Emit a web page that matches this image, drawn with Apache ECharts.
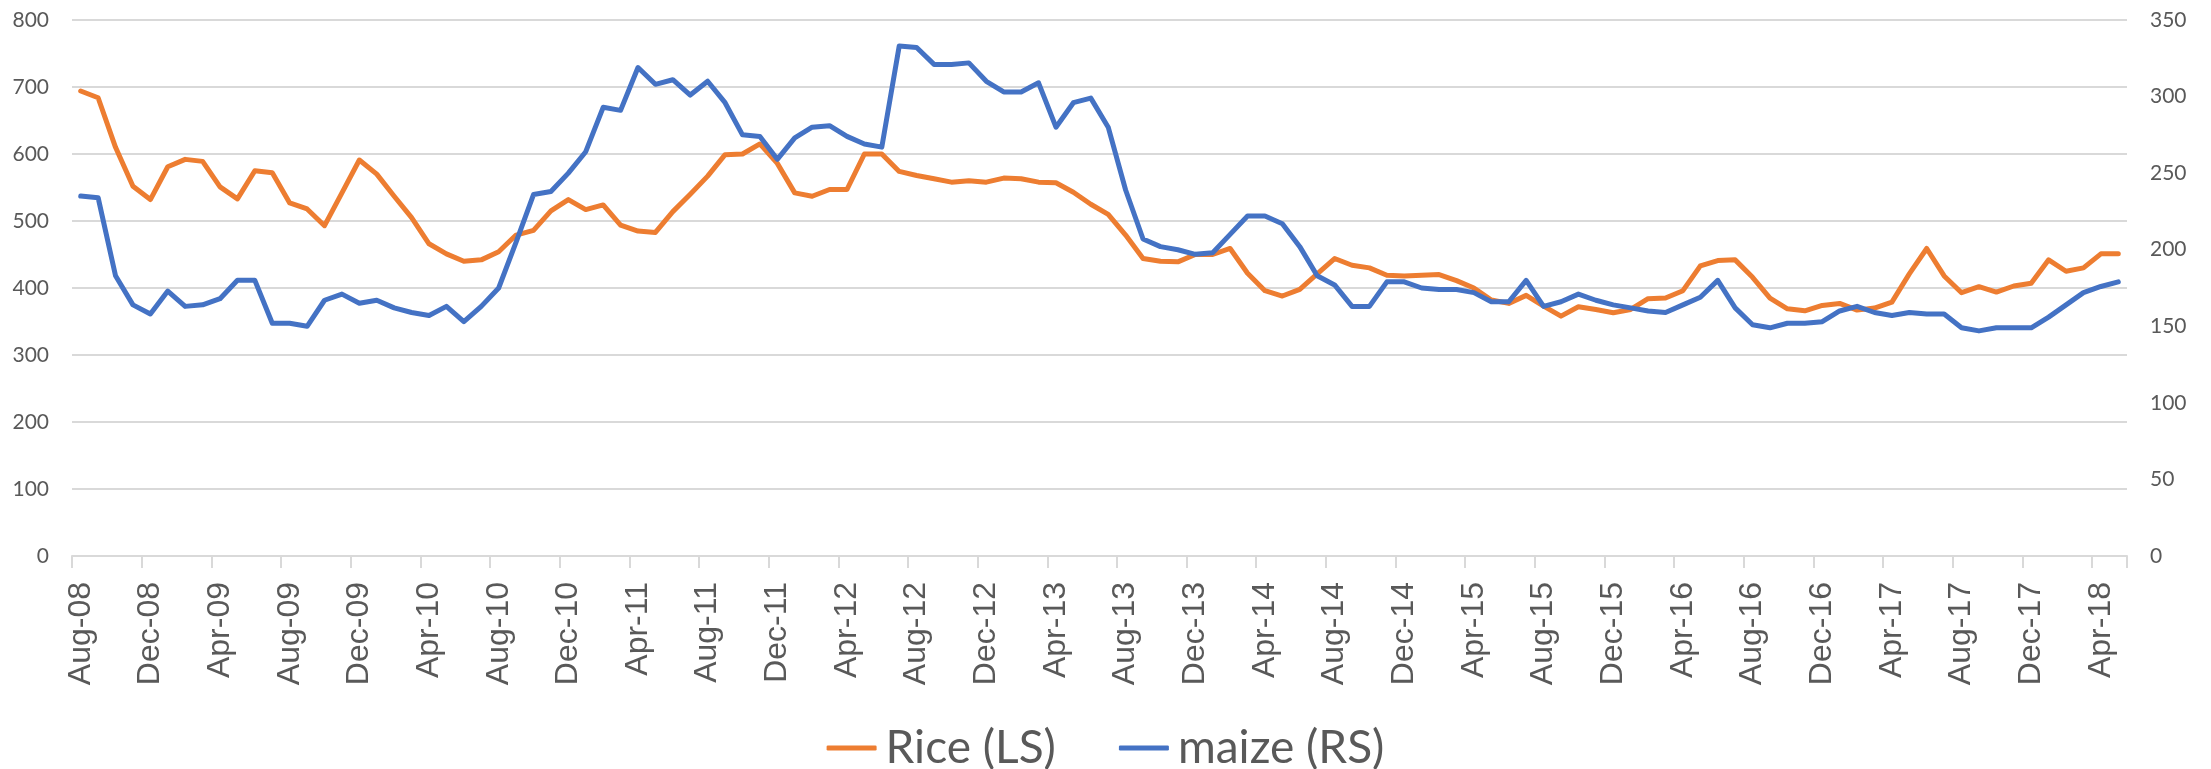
<!DOCTYPE html>
<html lang="en">

<head>
    <meta charset="UTF-8">
    <title>Rice and maize prices</title>
    <script src="https://cdn.jsdelivr.net/npm/echarts@6/dist/echarts.min.js"></script>
    <style>
        html, body { margin: 0; padding: 0; background: #fff; }
    </style>
</head>

<body>
    <div id="main" style="width: 2211px;height:769px;"></div>
    <script>
        // monthly, Aug-08 .. May-18
        var monthNames = ['Jan', 'Feb', 'Mar', 'Apr', 'May', 'Jun', 'Jul', 'Aug', 'Sep', 'Oct', 'Nov', 'Dec'];
        var startMonth = 7, startYear = 8, nMonths = 118;
        var months = [];
        for (let i = 0; i < nMonths; i++) {
            let m = (startMonth + i) % 12, y = startYear + Math.floor((startMonth + i) / 12);
            months.push(monthNames[m] + '-' + String(y).padStart(2, '0'));
        }

        // Rice (left scale)
        var rice = [
            694, 684, 610, 552, 532, 581, 592, 589, 551, 533, 575, 572,
            527, 518, 493, 542, 591, 570, 537, 505, 466, 451, 440, 442,
            454, 479, 486, 515, 532, 517, 524, 494, 485, 483, 514, 540,
            567, 599, 600, 615, 586, 542, 537, 547, 547, 600, 600, 574,
            568, 563, 558, 560, 558, 564, 563, 558, 557, 543, 525, 510,
            479, 444, 440, 439, 450, 450, 459, 422, 396, 388, 398, 421,
            444, 434, 430, 419, 418, 419, 420, 411, 400, 382, 377, 389,
            373, 358, 372, 368, 363, 368, 384, 385, 396, 433, 441, 442,
            416, 385, 369, 366, 374, 377, 367, 370, 379, 421, 459, 418,
            393, 402, 394, 403, 407, 442, 425, 430, 451, 451
        ];
        // maize (right scale)
        var maize = [
            235, 234, 183, 164, 158, 173, 163, 164, 168, 180, 180, 152,
            152, 150, 167, 171, 165, 167, 162, 159, 157, 163, 153, 163,
            175, 205, 236, 238, 250, 264, 293, 291, 319, 308, 311, 301,
            310, 296, 275, 274, 259, 273, 280, 281, 274, 269, 267, 333,
            332, 321, 321, 322, 310, 303, 303, 309, 280, 296, 299, 280,
            239, 207, 202, 200, 197, 198, 210, 222, 222, 217, 202, 183,
            177, 163, 163, 179, 179, 175, 174, 174, 172, 166, 166, 180,
            163, 166, 171, 167, 164, 162, 160, 159, 164, 169, 180, 162,
            151, 149, 152, 152, 153, 160, 163, 159, 157, 159, 158, 158,
            149, 147, 149, 149, 149, 156, 164, 172, 176, 179
        ];

        var leftTicks = { min: 0, max: 800, step: 100 };
        var rightTicks = { min: 0, max: 350, step: 50 };

        var gridGray = '#d9d9d9', textGray = '#595959';

        var myChart = echarts.init(document.getElementById('main'));
        var option = {
            animation: false,
            grid: { left: 72, right: 84, top: 20, bottom: 213 },
            legend: {
                data: ['Rice (LS)', 'maize (RS)'],
                left: 'center',
                top: 720,
                icon: 'roundRect',
                itemWidth: 50,
                itemHeight: 5,
                itemGap: 63,
                textStyle: { fontFamily: 'Lato', fontSize: 46, color: textGray, padding: [0, 0, 0, 4] }
            },
            xAxis: {
                type: 'category',
                data: months,
                boundaryGap: true,
                axisLine: { lineStyle: { color: gridGray, width: 2 } },
                axisTick: { show: true, interval: 3, length: 12, lineStyle: { color: gridGray, width: 2 } },
                axisLabel: {
                    interval: 3, rotate: 90, margin: 26,
                    fontFamily: 'Liberation Sans', fontSize: 32, color: textGray
                },
                splitLine: { show: false }
            },
            yAxis: [
                {
                    type: 'value',
                    min: leftTicks.min, max: leftTicks.max, interval: leftTicks.step,
                    axisLine: { show: false },
                    axisTick: { show: false },
                    axisLabel: { margin: 23, fontFamily: 'Lato', fontSize: 21, color: textGray },
                    splitLine: { lineStyle: { color: gridGray, width: 2 } }
                },
                {
                    type: 'value',
                    position: 'right',
                    min: rightTicks.min, max: rightTicks.max, interval: rightTicks.step,
                    axisLine: { show: false },
                    axisTick: { show: false },
                    axisLabel: { margin: 23, fontFamily: 'Lato', fontSize: 21, color: textGray },
                    splitLine: { show: false }
                }
            ],
            series: [
                {
                    name: 'Rice (LS)',
                    type: 'line',
                    yAxisIndex: 0,
                    data: rice,
                    showSymbol: false,
                    lineStyle: { color: '#ED7D31', width: 5, cap: 'round', join: 'round' },
                    itemStyle: { color: '#ED7D31' }
                },
                {
                    name: 'maize (RS)',
                    type: 'line',
                    yAxisIndex: 1,
                    data: maize,
                    showSymbol: false,
                    lineStyle: { color: '#4472C4', width: 5, cap: 'round', join: 'round' },
                    itemStyle: { color: '#4472C4' }
                }
            ]
        };
        option && myChart.setOption(option);
    </script>
</body>

</html>
